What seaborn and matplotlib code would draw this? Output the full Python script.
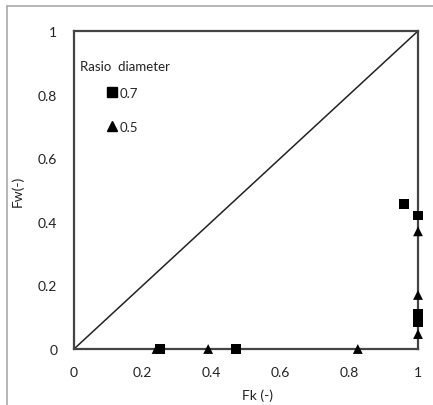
import matplotlib
matplotlib.use("Agg")
import matplotlib.pyplot as plt
import seaborn as sns
import pandas as pd
from matplotlib.lines import Line2D

sns.set_theme(style="white")
plt.rcParams['font.family'] = ['Lato', 'DejaVu Sans']

# Data
fk_07 = [0.25, 0.47, 0.96, 1.0, 1.0, 1.0]
fw_07 = [0.0, 0.0, 0.455, 0.42, 0.11, 0.085]
fk_05 = [0.24, 0.39, 0.825, 1.0, 1.0, 1.0]
fw_05 = [0.0, 0.0, 0.0, 0.37, 0.17, 0.047]
diag_x = [0, 1]
diag_y = [0, 1]
ticks = [0, 0.2, 0.4, 0.6, 0.8, 1]
tick_labels = ["0", "0.2", "0.4", "0.6", "0.8", "1"]
series_labels = ["0.7", "0.5"]
legend_title = "Rasio  diameter"

df = pd.DataFrame({
    "Fk": fk_07 + fk_05,
    "Fw": fw_07 + fw_05,
    "ratio": [series_labels[0]] * len(fk_07) + [series_labels[1]] * len(fk_05),
})

W, H = 433, 406
fig = plt.figure(figsize=(W / 100, H / 100), dpi=100)
ax = fig.add_axes([74 / W, 1 - 350 / H, (418 - 74) / W, (350 - 32) / H])

ax.plot(diag_x, diag_y, color="#222222", lw=1.1, zorder=1)
sns.scatterplot(data=df, x="Fk", y="Fw", style="ratio", hue="ratio",
                markers={series_labels[0]: "s", series_labels[1]: "^"},
                palette={series_labels[0]: "black", series_labels[1]: "black"},
                s=50, linewidth=0, ax=ax, legend=False, zorder=3, clip_on=False)

ax.set_xlim(0, 1)
ax.set_ylim(0, 1)
ax.set_xticks(ticks)
ax.set_xticklabels(tick_labels)
ax.set_yticks(ticks)
ax.set_yticklabels(tick_labels)
ax.tick_params(axis="both", length=0, labelsize=10, colors="#222222", pad=12)
for sp in ax.spines.values():
    sp.set_color("#444444")
    sp.set_linewidth(1.6)

ax.set_xlabel("Fk (-)", fontsize=10, color="#222222", labelpad=6)
ax.xaxis.set_label_coords((257 - 74) / (418 - 74), -(393 - 350) / (350 - 32) + 0.01)
ax.set_ylabel("Fw(-)", fontsize=10, color="#222222")
ax.yaxis.set_label_coords(-(74 - 24) / (418 - 74), 0.5)

# legend
fig.text(80 / W, 1 - 67 / H, legend_title, fontsize=9.5, color="#222222",
         ha="left", va="center")
handles = [Line2D([], [], marker="s", color="black", linestyle="", markersize=6.5),
           Line2D([], [], marker="^", color="black", linestyle="", markersize=6.5)]
ax.legend(handles, series_labels, loc="upper left",
          bbox_to_anchor=((108 - 74) / (418 - 74), 1 - (88 - 32) / (350 - 32)),
          frameon=False, fontsize=9.5, handlelength=0.6, handletextpad=0.3,
          labelspacing=1.65, borderaxespad=0, borderpad=0)

# outer border (left and top only visible)
fig.add_artist(Line2D([7 / W, 7 / W], [0, 1 - 7 / H], transform=fig.transFigure,
                      color="#aaaaaa", lw=1.2))
fig.add_artist(Line2D([7 / W, 1], [1 - 7 / H, 1 - 7 / H], transform=fig.transFigure,
                      color="#aaaaaa", lw=1.2))

fig.savefig("out.png", dpi=100, facecolor="white")
